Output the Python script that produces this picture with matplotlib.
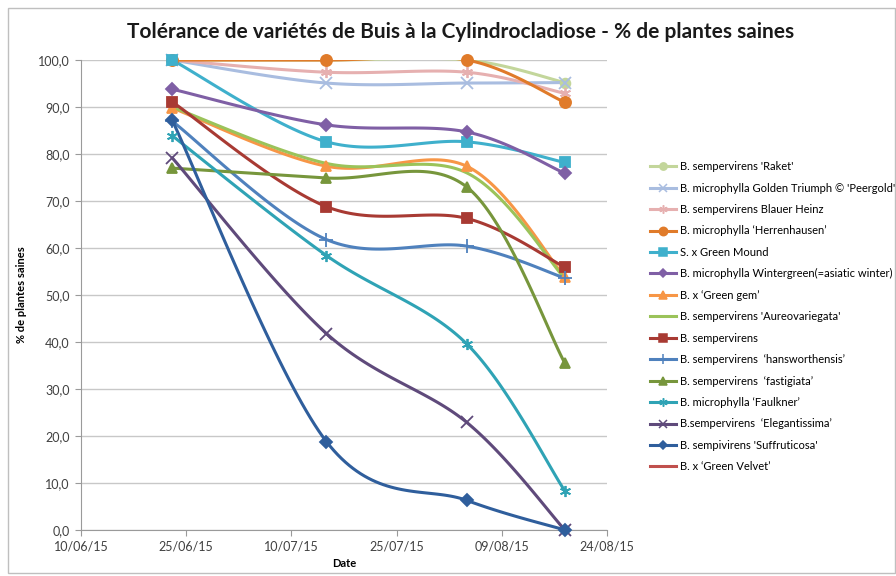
import numpy as np
import matplotlib
matplotlib.use("Agg")
import matplotlib.pyplot as plt
import matplotlib.dates as mdates
from matplotlib.lines import Line2D
from matplotlib.patches import Rectangle
from matplotlib.ticker import FuncFormatter
import datetime as dt

plt.rcParams['font.family'] = ['Lato', 'DejaVu Sans']

dates = [dt.date(2015, 6, 23), dt.date(2015, 7, 15), dt.date(2015, 8, 4), dt.date(2015, 8, 18)]

names = [
    "B. sempervirens 'Raket'",
    "B. microphylla Golden Triumph \u00a9 'Peergold'",
    "B. sempervirens Blauer Heinz",
    "B. microphylla \u2018Herrenhausen\u2019",
    "S. x Green Mound",
    "B. microphylla Wintergreen(=asiatic winter)",
    "B. x \u2018Green gem\u2019",
    "B. sempervirens 'Aureovariegata'",
    "B. sempervirens",
    "B. sempervirens  \u2018hansworthensis\u2019",
    "B. sempervirens  \u2018fastigiata\u2019",
    "B. microphylla \u2018Faulkner\u2019",
    "B.sempervirens  \u2018Elegantissima\u2019",
    "B. sempivirens 'Suffruticosa'",
    "B. x \u2018Green Velvet\u2019",
]

raket = [100, 100, 100, 95.2]
golden = [100, 95.1, 95.1, 95.2]
blauer = [100, 97.4, 97.4, 92.9]
herrenhausen = [100, 100, 100, 91.0]
green_mound = [100, 82.6, 82.6, 78.2]
wintergreen = [93.8, 86.2, 84.7, 75.9]
green_gem = [89.8, 77.4, 77.4, 53.8]
aureo = [90.0, 78.0, 76.0, 53.5]
sempervirens = [91.1, 68.8, 66.3, 55.9]
hansworth = [87.0, 61.8, 60.4, 53.6]
fastigiata = [77.0, 74.9, 73.0, 35.5]
faulkner = [83.9, 58.4, 39.6, 8.3]
elegant = [79.2, 41.8, 22.9, 0.0]
suffrut = [87.2, 18.8, 6.3, 0.0]
green_velvet = [np.nan, np.nan, np.nan, np.nan]

series = [raket, golden, blauer, herrenhausen, green_mound, wintergreen, green_gem,
          aureo, sempervirens, hansworth, fastigiata, faulkner, elegant, suffrut, green_velvet]

colors = ['#c3d69b', '#a9bde0', '#e6b0b0', '#e07b2a', '#3fb0cc', '#7f5fa5', '#f79646',
          '#9bc35a', '#a83a33', '#4f81bd', '#77963c', '#2fa3b5', '#5f4a7b', '#2f5e9c', '#c0504d']
markers = ['o', 'x', (6, 2, 0), 'o', 's', 'D', '^', None, 's', '+', '^', (6, 2, 0), 'x', 'D', None]
msizes = [7, 8, 8, 8, 7.5, 6, 7.5, 0, 7.5, 10, 7.5, 8, 8, 6, 0]

# Excel-like smoothing (Bezier through points), done in pixel-ish space
PX_DAY, PX_VAL = 7.0, 4.7


def smooth(xd, y, n=40):
    x = np.array(xd, float) * PX_DAY
    y = np.array(y, float) * PX_VAL
    P = np.column_stack([x, y])
    out = [P[0]]
    m = len(P)
    t = np.linspace(0, 1, n)[1:]
    for i in range(m - 1):
        p0 = P[i - 1] if i > 0 else P[i]
        p3 = P[i + 2] if i + 2 < m else P[i + 1]
        c1 = P[i] + (P[i + 1] - p0) / 6
        c2 = P[i + 1] - (p3 - P[i]) / 6
        seg = ((1 - t) ** 3)[:, None] * P[i] + (3 * (1 - t) ** 2 * t)[:, None] * c1 \
            + (3 * (1 - t) * t ** 2)[:, None] * c2 + (t ** 3)[:, None] * P[i + 1]
        out.extend(seg)
    out = np.array(out)
    return out[:, 0] / PX_DAY, out[:, 1] / PX_VAL


fig = plt.figure(figsize=(8.96, 5.76), dpi=100)
ax = fig.add_axes([0.0904, 0.0799, 0.587, 0.8159])

x0 = mdates.date2num(dates[0])
xnum = mdates.date2num(dates) - x0

handles = []
for vals, c, mk, ms, name in zip(series, colors, markers, msizes, names):
    if not np.all(np.isnan(vals)):
        sx, sy = smooth(xnum, vals)
        ax.plot(sx + x0, sy, color=c, lw=2.2, solid_capstyle='round', zorder=3)
        if mk is not None:
            ax.plot(mdates.date2num(dates), vals, linestyle='none', marker=mk, ms=ms,
                    color=c, mec=c, mew=1.3, zorder=4, clip_on=False)
    handles.append(Line2D([], [], color=c, lw=2.2, marker=mk, ms=ms * 0.75 if mk else 0,
                          mec=c, mew=1.1))

ax.set_xlim(mdates.date2num(dt.date(2015, 6, 10)), mdates.date2num(dt.date(2015, 8, 24)))
ax.set_ylim(0, 100)
ax.set_xticks(mdates.date2num([dt.date(2015, 6, 10), dt.date(2015, 6, 25), dt.date(2015, 7, 10),
                               dt.date(2015, 7, 25), dt.date(2015, 8, 9), dt.date(2015, 8, 24)]))
ax.xaxis.set_major_formatter(mdates.DateFormatter('%d/%m/%y'))
ax.set_yticks(np.arange(0, 101, 10))
ax.yaxis.set_major_formatter(FuncFormatter(lambda v, p: f"{v:.1f}".replace('.', ',')))
ax.grid(axis='y', color='#c8c8c8', lw=1)
ax.set_axisbelow(True)
for s in ['top', 'right']:
    ax.spines[s].set_visible(False)
for s in ['left', 'bottom']:
    ax.spines[s].set_color('#9a9a9a')
ax.tick_params(axis='both', colors='#9a9a9a', labelcolor='#404040', labelsize=9, length=4)
ax.tick_params(axis='y', pad=4)

ax.set_ylabel('% de plantes saines', fontsize=8, fontweight='bold', labelpad=8)
ax.set_xlabel('Date', fontsize=8, fontweight='bold', labelpad=4)

fig.text(0.514, 0.944, 'Tolérance de variétés de Buis à la Cylindrocladiose - % de plantes saines',
         ha='center', va='center', fontsize=15, fontweight='bold', color='#1a1a1a')

fig.legend(handles, names, loc='upper left', bbox_to_anchor=(0.72, 0.728), frameon=False,
           fontsize=8.0, handlelength=2.4, handletextpad=0.36, labelspacing=0.94, numpoints=1,
           borderaxespad=0)

fig.patches.append(Rectangle((0.009, 0.006), 0.99, 0.98, transform=fig.transFigure,
                             fill=False, ec='#bfbfbf', lw=1))

fig.savefig('out.png', dpi=100)
